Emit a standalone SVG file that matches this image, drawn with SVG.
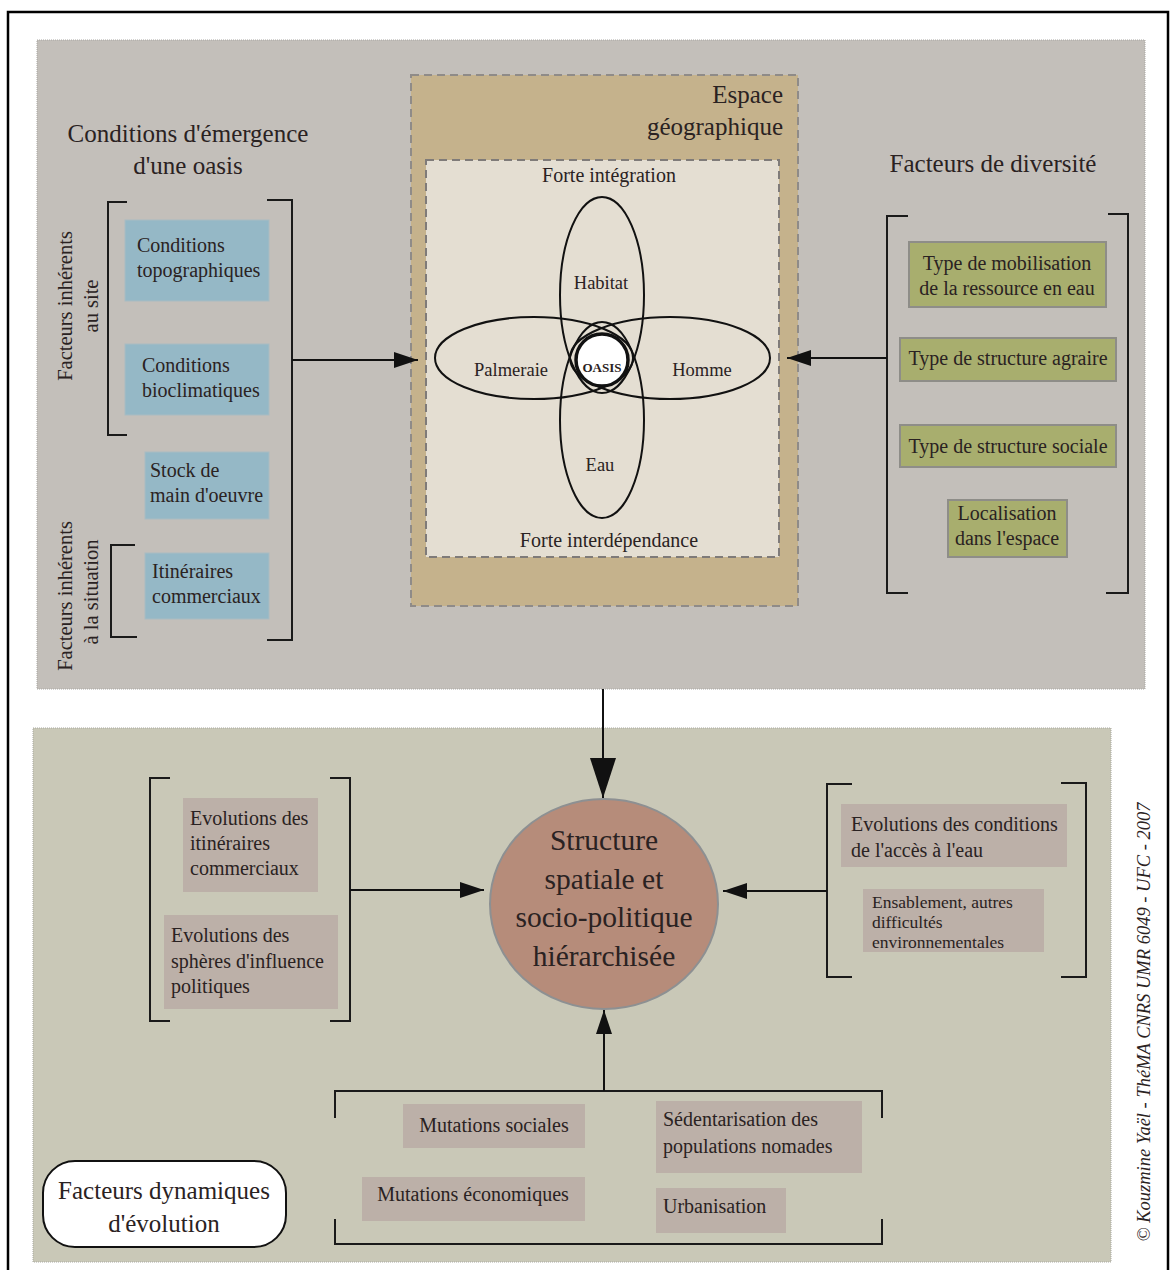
<svg xmlns="http://www.w3.org/2000/svg" width="1171" height="1270" viewBox="0 0 1171 1270">
<defs>
<style>
text{font-family:"Liberation Serif","DejaVu Serif",serif;fill:#2a2222;}
.t18{font-size:20px;}
.t17{font-size:18.5px;}
.t22{font-size:25px;}
.rot{font-size:20.5px;}
.tight{font-size:17.5px;}
.mid{text-anchor:middle;}
.blue{fill:#95b8c6;stroke:#a9bcc2;stroke-width:1;}
.green{fill:#a8ae6e;stroke:#8e8d88;stroke-width:2;}
.mauve{fill:#bcb0a8;stroke:none;}
.br{fill:none;stroke:#1a1a1a;stroke-width:2;}
.con{fill:none;stroke:#111;stroke-width:2;}
</style>
<marker id="ah" viewBox="0 0 24 16" refX="24" refY="8" markerWidth="24" markerHeight="16" markerUnits="userSpaceOnUse" orient="auto"><path d="M0,0 L24,8 L0,16 z" fill="#111"/></marker>
<marker id="ahBig" viewBox="0 0 40 26" refX="40" refY="13" markerWidth="40" markerHeight="26" markerUnits="userSpaceOnUse" orient="auto"><path d="M0,0 L40,13 L0,26 z" fill="#111"/></marker>
</defs>
<rect x="0" y="0" width="1171" height="1270" fill="#ffffff"/>
<rect x="8" y="12" width="1160" height="1270" fill="none" stroke="#000" stroke-width="2.5"/>

<!-- panels -->
<g id="panel-top">
<rect x="37" y="40" width="1108" height="649" fill="#c3bfba" stroke="#a8a6a2" stroke-width="1" stroke-dasharray="1 1"/>
</g>
<g id="panel-bottom">
<rect x="33" y="728" width="1078" height="534" fill="#c9c8b7" stroke="#a8a8a0" stroke-width="1" stroke-dasharray="1 1"/>
</g>

<!-- top left -->
<g id="conditions-emergence">
<text class="t22 mid" x="188" y="142">Conditions d'émergence</text>
<text class="t22 mid" x="188" y="174">d'une oasis</text>
<path class="br" d="M127,202 H108 V435 H127"/>
<path class="br" d="M267,200 H292 V640 H267"/>
<path class="br" d="M135,545 H111 V637 H137"/>
<text class="rot mid" transform="translate(72,306) rotate(-90)">Facteurs inhérents</text>
<text class="rot mid" transform="translate(98,306) rotate(-90)">au site</text>
<text class="rot mid" transform="translate(72,596) rotate(-90)">Facteurs inhérents</text>
<text class="rot mid" transform="translate(98,592) rotate(-90)">à la situation</text>
</g>
<g id="n-topo"><rect class="blue" x="125" y="220" width="144" height="81"/><text class="t18" x="137" y="252">Conditions</text><text class="t18" x="137" y="277">topographiques</text></g>
<g id="n-bioclim"><rect class="blue" x="125" y="344" width="144" height="71"/><text class="t18" x="142" y="372">Conditions</text><text class="t18" x="142" y="397">bioclimatiques</text></g>
<g id="n-stock"><rect class="blue" x="145" y="452" width="124" height="67"/><text class="t18" x="150" y="477">Stock de</text><text class="t18" x="150" y="502">main d'oeuvre</text></g>
<g id="n-itin"><rect class="blue" x="145" y="553" width="124" height="66"/><text class="t18" x="152" y="578">Itinéraires</text><text class="t18" x="152" y="603">commerciaux</text></g>

<!-- center -->
<g id="espace-geo">
<rect x="411" y="75" width="387" height="531" fill="#c5b28c" stroke="#8f8b88" stroke-width="2" stroke-dasharray="8 5"/>
<text class="t22" x="783" y="103" text-anchor="end">Espace</text>
<text class="t22" x="783" y="135" text-anchor="end">géographique</text>
<rect x="426" y="160" width="353" height="397" fill="#e4ded2" stroke="#7f7b79" stroke-width="2" stroke-dasharray="8 5"/>
<text class="t18 mid" x="609" y="182">Forte intégration</text>
<text class="t18 mid" x="609" y="547">Forte interdépendance</text>
</g>
<g id="n-habitat"><ellipse cx="602" cy="295" rx="42" ry="98" fill="none" stroke="#111" stroke-width="2"/><text class="t17 mid" x="601" y="289">Habitat</text></g>
<g id="n-eau"><ellipse cx="602" cy="420" rx="42" ry="98" fill="none" stroke="#111" stroke-width="2"/><text class="t17 mid" x="600" y="471">Eau</text></g>
<g id="n-palmeraie"><ellipse cx="534" cy="358" rx="99" ry="41" fill="none" stroke="#111" stroke-width="2"/><text class="t17 mid" x="511" y="376">Palmeraie</text></g>
<g id="n-homme"><ellipse cx="670" cy="358" rx="100" ry="41" fill="none" stroke="#111" stroke-width="2"/><text class="t17 mid" x="702" y="376">Homme</text></g>
<g id="n-oasis"><circle cx="602" cy="360" r="26" fill="#fff" stroke="#111" stroke-width="3.5"/><text x="602" y="372" text-anchor="middle" font-size="13" font-weight="bold">OASIS</text></g>

<!-- top right -->
<g id="facteurs-diversite">
<text class="t22 mid" x="993" y="172">Facteurs de diversité</text>
<path class="br" d="M908,216 H887 V593 H908"/>
<path class="br" d="M1108,214 H1128 V593 H1106"/>
</g>
<g id="n-mobil"><rect class="green" x="909" y="242" width="197" height="65"/><text class="t18 mid" x="1007" y="270">Type de mobilisation</text><text class="t18 mid" x="1007" y="295">de la ressource en eau</text></g>
<g id="n-agraire"><rect class="green" x="900" y="338" width="216" height="43"/><text class="t18 mid" x="1008" y="365">Type de structure agraire</text></g>
<g id="n-sociale"><rect class="green" x="900" y="425" width="216" height="42"/><text class="t18 mid" x="1008" y="453">Type de structure sociale</text></g>
<g id="n-local"><rect class="green" x="948" y="500" width="119" height="57"/><text class="t18 mid" x="1007" y="520">Localisation</text><text class="t18 mid" x="1007" y="545">dans l'espace</text></g>

<!-- bottom -->
<g id="n-structure">
<ellipse cx="604" cy="904" rx="114" ry="105" fill="#b68c7a" stroke="#8d9092" stroke-width="2"/>
<text class="mid" x="604" y="850" font-size="29.5">Structure</text>
<text class="mid" x="604" y="889" font-size="29.5">spatiale et</text>
<text class="mid" x="604" y="927" font-size="29.5">socio-politique</text>
<text class="mid" x="604" y="966" font-size="29.5">hiérarchisée</text>
</g>
<g id="bottom-left">
<path class="br" d="M170,778 H150 V1021 H170"/>
<path class="br" d="M330,778 H350 V1021 H330"/>
</g>
<g id="n-evo-itin"><rect class="mauve" x="183" y="798" width="135" height="94"/><text class="t18" x="190" y="825">Evolutions des</text><text class="t18" x="190" y="850">itinéraires</text><text class="t18" x="190" y="875">commerciaux</text></g>
<g id="n-evo-spheres"><rect class="mauve" x="164" y="915" width="174" height="94"/><text class="t18" x="171" y="942">Evolutions des</text><text class="t18" x="171" y="968">sphères d'influence</text><text class="t18" x="171" y="993">politiques</text></g>
<g id="bottom-right">
<path class="br" d="M852,784 H827 V977 H852"/>
<path class="br" d="M1061,783 H1086 V977 H1061"/>
</g>
<g id="n-evo-eau"><rect class="mauve" x="841" y="804" width="226" height="63"/><text class="t18" x="851" y="831">Evolutions des conditions</text><text class="t18" x="851" y="857">de l'accès à l'eau</text></g>
<g id="n-ensab"><rect class="mauve" x="863" y="889" width="181" height="63"/><text class="tight" x="872" y="908">Ensablement, autres</text><text class="tight" x="872" y="928">difficultés</text><text class="tight" x="872" y="948">environnementales</text></g>
<g id="bottom-bracket">
<path class="br" d="M335,1118 V1091 H882 V1118"/>
<path class="br" d="M335,1219 V1244 H882 V1219"/>
</g>
<g id="n-mut-soc"><rect class="mauve" x="403" y="1104" width="182" height="44"/><text class="t18 mid" x="494" y="1132">Mutations sociales</text></g>
<g id="n-mut-eco"><rect class="mauve" x="362" y="1177" width="223" height="44"/><text class="t18 mid" x="473" y="1201">Mutations économiques</text></g>
<g id="n-sedent"><rect class="mauve" x="656" y="1101" width="206" height="72"/><text class="t18" x="663" y="1126">Sédentarisation des</text><text class="t18" x="663" y="1153">populations nomades</text></g>
<g id="n-urban"><rect class="mauve" x="656" y="1188" width="130" height="45"/><text class="t18" x="663" y="1213">Urbanisation</text></g>
<g id="n-facteurs-dyn">
<rect x="43" y="1161" width="243" height="86" rx="32" ry="32" fill="#fff" stroke="#111" stroke-width="2"/>
<text class="t22 mid" x="164" y="1199">Facteurs dynamiques</text>
<text class="t22 mid" x="164" y="1232">d'évolution</text>
</g>
<text transform="translate(1150,1022) rotate(-90)" text-anchor="middle" font-size="18.5" font-style="italic">© Kouzmine Yaël - ThéMA CNRS UMR 6049 - UFC - 2007</text>

<!-- connectors -->
<g id="connectors">
<line class="con" x1="292" y1="360" x2="418" y2="360" marker-end="url(#ah)"/>
<line class="con" x1="887" y1="358" x2="787" y2="358" marker-end="url(#ah)"/>
<line class="con" x1="603" y1="689" x2="603" y2="798" stroke-width="3" marker-end="url(#ahBig)"/>
<line class="con" x1="350" y1="890" x2="484" y2="890" marker-end="url(#ah)"/>
<line class="con" x1="827" y1="891" x2="723" y2="891" marker-end="url(#ah)"/>
<line class="con" x1="604" y1="1091" x2="604" y2="1010" marker-end="url(#ah)"/>
</g>
</svg>
